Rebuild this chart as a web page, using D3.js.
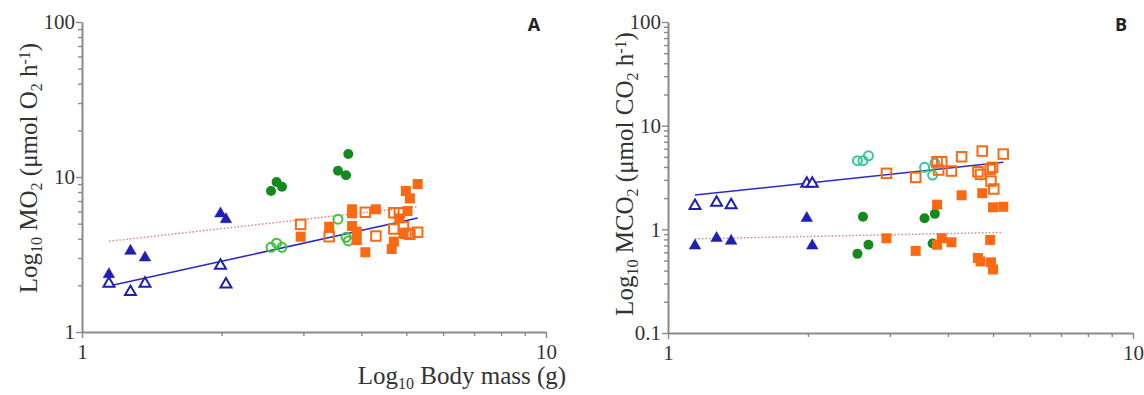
<!DOCTYPE html>
<html>
<head>
<meta charset="utf-8">
<script src="https://cdn.jsdelivr.net/npm/d3@7"></script>
<style>
  html, body { margin: 0; padding: 0; background: #fff; }
  svg { display: block; }
  .tick text { font-family: "Liberation Serif", "Times New Roman", serif; font-size: 21px; fill: #333; }
  .title { font-family: "Liberation Serif", "Times New Roman", serif; font-size: 25px; fill: #333; }
  .letter { font-family: "Open Sans", "DejaVu Sans", sans-serif; font-weight: 700; font-size: 18px; fill: #222; }
</style>
</head>
<body>
<svg id="chart" width="1144" height="395"></svg>
<script>
// ---------- DATA ----------
const massTri   = [1.143, 1.272, 1.367, 1.988, 2.043];
const massGreen = [2.555, 2.626, 2.698, 3.562, 3.707, 3.749];

// Panel A: MO2
const mo2TriFilled   = [2.39, 3.38, 3.06, 5.89, 5.41];
const mo2TriOpen     = [2.08, 1.84, 2.08, 2.72, 2.06];
const mo2GreenFilled = [8.12, 9.29, 8.66, 10.98, 10.25, 14.07];
const mo2GreenOpen   = [3.52, 3.74, 3.52, 5.34, 4.08, 3.87];
const massOrangeOpenA = [2.96, 3.41, 4.08, 4.30, 4.70, 4.83, 4.70, 4.93, 4.99, 5.09, 5.29];
const mo2OrangeOpen   = [4.95, 4.12, 5.92, 4.16, 5.88, 5.88, 4.62, 4.78, 4.33, 4.27, 4.40];
const massOrangeFilledA = [2.96, 3.41, 3.82, 3.82, 3.82, 3.91, 3.91, 4.08, 4.30, 4.99, 5.09, 5.29, 5.03, 4.83, 4.70, 4.65, 4.93];
const mo2OrangeFilled   = [4.12, 4.78, 6.19, 5.83, 4.83, 4.44, 3.92, 3.27, 6.19, 8.12, 7.29, 9.01, 6.03, 5.41, 3.83, 3.43, 4.33];
const fitMassA   = [1.143, 5.29];
const fitSolidA  = [1.98, 5.43];
const fitDottedA = [3.85, 6.44];

// Panel B: MCO2
const mco2TriOpen     = [1.72, 1.85, 1.75, 2.82, 2.82];
const mco2TriFilled   = [0.71, 0.84, 0.79, 1.31, 0.71];
const mco2GreenFilled = [0.58, 1.32, 0.71, 1.28, 0.73, 1.41];
const mco2GreenOpen   = [4.59, 4.59, 5.12, 3.96, 3.34, 4.33];
const massOrangeOpenB = [2.95, 3.41, 3.79, 3.88, 3.82, 4.07, 4.28, 4.74, 5.26, 4.64, 4.70, 4.93, 4.99, 4.95, 5.02];
const mco2OrangeOpen  = [3.47, 3.17, 4.49, 4.49, 3.73, 3.65, 5.01, 5.69, 5.32, 3.59, 3.39, 3.79, 3.96, 2.92, 2.45];
const massOrangeFilledB = [2.95, 3.41, 3.79, 3.88, 3.79, 4.07, 4.28, 4.74, 4.93, 4.64, 4.70, 4.95, 5.00, 5.00, 5.26];
const mco2OrangeFilled  = [0.82, 0.62, 1.73, 0.82, 0.71, 0.75, 2.13, 2.23, 0.79, 0.53, 0.49, 0.48, 0.41, 1.63, 1.65];
const fitMassB   = [1.143, 5.26];
const fitSolidB  = [2.14, 4.43];
const fitDottedB = [0.81, 0.935];

const xTickLabels  = ["1", "10"];
const yTickLabelsA = ["1", "10", "100"];
const yTickLabelsB = ["0.1", "1", "10", "100"];

// ---------- STYLE ----------
const C = {
  blue: "#1f1fb0", blueLine: "#2a2ac8",
  greenDark: "#138a1e", greenOpenA: "#3cc43c", greenOpenB: "#35c79a",
  orange: "#fb6a12", dotted: "#ee8080", axis: "#8a8a8a"
};

const svg = d3.select("#chart");

function minorTicks(lo, hi) {
  const t = [];
  for (let e = Math.round(Math.log10(lo)); e < Math.round(Math.log10(hi)); e++) {
    for (let m = 1; m <= 9; m++) t.push(+(m * Math.pow(10, e)).toPrecision(3));
  }
  t.push(hi);
  return t;
}
const zip = (a, b) => a.map((v, i) => [v, b[i]]);

function panel(cfg) {
  const x = d3.scaleLog().domain([1, 10]).range(cfg.xr);
  const y = d3.scaleLog().domain(cfg.yd).range(cfg.yr);
  const g = svg.append("g");

  const isMajor = v => Math.abs(Math.log10(v) - Math.round(Math.log10(v))) < 1e-6;

  const xa = g.append("g").attr("transform", `translate(0,${cfg.yr[0]})`)
    .call(d3.axisBottom(x).tickValues(minorTicks(1, 10)).tickSizeOuter(0)
      .tickFormat(v => isMajor(v) ? xTickLabels[Math.round(Math.log10(v))] : ""));
  xa.selectAll(".tick line").attr("y2", d => isMajor(d) ? 6 : 4);
  xa.selectAll(".tick text").attr("dy", "0.9em").attr("y", 8);

  const ya = g.append("g").attr("transform", `translate(${cfg.xr[0]},0)`)
    .call(d3.axisLeft(y).tickValues(minorTicks(cfg.yd[0], cfg.yd[1])).tickSizeOuter(0)
      .tickFormat(v => isMajor(v) ? cfg.yLabels[Math.round(Math.log10(v / cfg.yd[0]))] : ""));
  ya.selectAll(".tick line").attr("x2", d => isMajor(d) ? -6 : -4);
  ya.selectAll(".tick text").attr("x", -7);

  [xa, ya].forEach(a => {
    a.select(".domain").attr("stroke", C.axis).attr("stroke-width", 2);
    a.selectAll(".tick line").attr("stroke", C.axis).attr("stroke-width", 1.4);
  });

  const line = d3.line().x(d => x(d[0])).y(d => y(d[1]));
  g.append("path").datum(zip(cfg.fitX, cfg.fitDotted)).attr("d", line)
    .attr("fill", "none").attr("stroke", C.dotted).attr("stroke-width", 1.5).attr("stroke-dasharray", "1.5,2");
  g.append("path").datum(zip(cfg.fitX, cfg.fitSolid)).attr("d", line)
    .attr("fill", "none").attr("stroke", C.blueLine).attr("stroke-width", 1.5);

  const tri = d3.symbol().type(d3.symbolTriangle);
  function triangles(data, filled) {
    g.append("g").selectAll("path").data(data).join("path")
      .attr("transform", d => `translate(${x(d[0])},${y(d[1]) + 1})`)
      .attr("d", tri.size(filled ? 58 : 52)())
      .attr("fill", filled ? C.blue : "#fff")
      .attr("stroke", C.blue).attr("stroke-width", filled ? 0.5 : 2);
  }
  function circles(data, filled, col) {
    g.append("g").selectAll("circle").data(data).join("circle")
      .attr("cx", d => x(d[0])).attr("cy", d => y(d[1]))
      .attr("r", filled ? 5 : 4.5)
      .attr("fill", filled ? col : "none")
      .attr("stroke", col).attr("stroke-width", filled ? 0 : 2);
  }
  function squares(data, filled) {
    const s = filled ? 10 : 9.5;
    g.append("g").selectAll("rect").data(data).join("rect")
      .attr("x", d => x(d[0]) - s / 2).attr("y", d => y(d[1]) - s / 2)
      .attr("width", s).attr("height", s)
      .attr("fill", filled ? C.orange : "none")
      .attr("stroke", C.orange).attr("stroke-width", filled ? 0 : 2);
  }
  triangles(zip(massTri, cfg.triFilled), true);
  triangles(zip(massTri, cfg.triOpen), false);
  circles(zip(massGreen, cfg.greenFilled), true, C.greenDark);
  circles(zip(massGreen, cfg.greenOpen), false, cfg.greenOpenCol);
  squares(zip(cfg.orFilledX, cfg.orFilled), true);
  squares(zip(cfg.orOpenX, cfg.orOpen), false);

  const yt = g.append("text").attr("class", "title")
    .attr("transform", `translate(${cfg.yTitleX},${cfg.yTitleY}) rotate(-90)`)
    .attr("text-anchor", "middle");
  cfg.yTitle.forEach(p => {
    const ts = yt.append("tspan").text(p.t);
    if (p.s === "sub") ts.attr("baseline-shift", "-0.3em").attr("font-size", "16px");
    if (p.s === "sup") ts.attr("baseline-shift", "0.45em").attr("font-size", "16px");
  });

  g.append("text").attr("class", "letter").attr("x", cfg.letterX).attr("y", 31)
    .attr("text-anchor", "middle").text(cfg.letter);
}

panel({
  xr: [82, 546], yd: [1, 100], yr: [332, 22], yLabels: yTickLabelsA,
  triFilled: mo2TriFilled, triOpen: mo2TriOpen,
  greenFilled: mo2GreenFilled, greenOpen: mo2GreenOpen, greenOpenCol: C.greenOpenA,
  orOpenX: massOrangeOpenA, orOpen: mo2OrangeOpen,
  orFilledX: massOrangeFilledA, orFilled: mo2OrangeFilled,
  fitX: fitMassA, fitSolid: fitSolidA, fitDotted: fitDottedA,
  yTitleX: 37, yTitleY: 168,
  yTitle: [{t: "Log"}, {t: "10", s: "sub"}, {t: " MO"}, {t: "2", s: "sub"}, {t: " (μmol O"}, {t: "2", s: "sub"}, {t: " h"}, {t: "-1", s: "sup"}, {t: ")"}],
  letter: "A", letterX: 534
});

panel({
  xr: [668, 1133], yd: [0.1, 100], yr: [333, 22], yLabels: yTickLabelsB,
  triFilled: mco2TriFilled, triOpen: mco2TriOpen,
  greenFilled: mco2GreenFilled, greenOpen: mco2GreenOpen, greenOpenCol: C.greenOpenB,
  orOpenX: massOrangeOpenB, orOpen: mco2OrangeOpen,
  orFilledX: massOrangeFilledB, orFilled: mco2OrangeFilled,
  fitX: fitMassB, fitSolid: fitSolidB, fitDotted: fitDottedB,
  yTitleX: 633, yTitleY: 174,
  yTitle: [{t: "Log"}, {t: "10", s: "sub"}, {t: " MCO"}, {t: "2", s: "sub"}, {t: " (μmol CO"}, {t: "2", s: "sub"}, {t: " h"}, {t: "-1", s: "sup"}, {t: ")"}],
  letter: "B", letterX: 1121
});

const xt = svg.append("text").attr("class", "title").attr("x", 462).attr("y", 384)
  .attr("text-anchor", "middle").style("font-size", "25px");
xt.append("tspan").text("Log");
xt.append("tspan").text("10").attr("baseline-shift", "-0.3em").attr("font-size", "16px");
xt.append("tspan").text(" Body mass (g)");
</script>
</body>
</html>
